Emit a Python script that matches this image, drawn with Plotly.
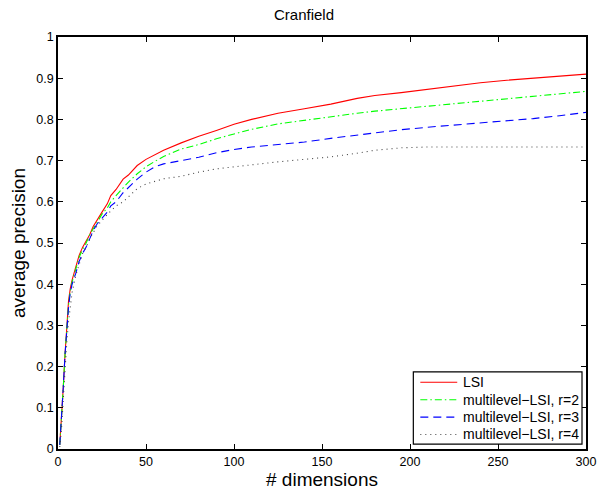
import plotly.graph_objects as go

# number of retained dimensions
dims = [1, 2, 3, 4, 5, 6, 7, 8, 10, 12, 14, 16, 18, 20, 22, 25, 28, 30, 33, 37, 40,
        45, 50, 55, 60, 70, 80, 90, 100, 110, 125, 140, 155, 170, 180, 195, 210,
        225, 240, 255, 270, 285, 300]

# average precision per method
lsi = [0.01, 0.07, 0.15, 0.23, 0.30, 0.36, 0.39, 0.41, 0.44, 0.47, 0.49, 0.505, 0.52,
       0.54, 0.555, 0.575, 0.595, 0.615, 0.63, 0.655, 0.665, 0.688, 0.703, 0.714,
       0.725, 0.743, 0.759, 0.773, 0.788, 0.80, 0.815, 0.826, 0.837, 0.851, 0.858,
       0.865, 0.873, 0.881, 0.889, 0.895, 0.900, 0.905, 0.910]
ml_r2 = [0.01, 0.07, 0.15, 0.23, 0.30, 0.35, 0.385, 0.405, 0.435, 0.465, 0.485, 0.50,
         0.52, 0.535, 0.55, 0.57, 0.585, 0.60, 0.615, 0.635, 0.648, 0.668, 0.685,
         0.698, 0.71, 0.728, 0.739, 0.753, 0.765, 0.776, 0.789, 0.798, 0.807, 0.815,
         0.820, 0.826, 0.832, 0.838, 0.845, 0.850, 0.856, 0.862, 0.868]
ml_r3 = [0.01, 0.07, 0.15, 0.23, 0.29, 0.345, 0.38, 0.40, 0.425, 0.455, 0.475, 0.49,
         0.51, 0.53, 0.545, 0.56, 0.575, 0.59, 0.60, 0.622, 0.635, 0.655, 0.672,
         0.685, 0.692, 0.700, 0.708, 0.719, 0.727, 0.733, 0.739, 0.745, 0.754, 0.762,
         0.768, 0.775, 0.781, 0.786, 0.792, 0.797, 0.802, 0.809, 0.817]
ml_r4 = [0.005, 0.05, 0.12, 0.20, 0.26, 0.31, 0.35, 0.38, 0.42, 0.45, 0.475, 0.49,
         0.51, 0.525, 0.54, 0.555, 0.57, 0.578, 0.59, 0.60, 0.612, 0.632, 0.643,
         0.650, 0.656, 0.662, 0.672, 0.680, 0.685, 0.690, 0.697, 0.703, 0.709, 0.718,
         0.725, 0.731, 0.733, 0.733, 0.733, 0.733, 0.733, 0.733, 0.733]

series = [
    ("LSI", lsi, "#ff0000", "solid"),
    ("multilevel\u2212LSI, r=2", ml_r2, "#00ff00", "7px,3px,1.5px,3px"),
    ("multilevel\u2212LSI, r=3", ml_r3, "#0000ff", "8px,5px"),
    ("multilevel\u2212LSI, r=4", ml_r4, "#444444", "1px,4px"),
]

FONT = "Liberation Sans, Arial, Helvetica, sans-serif"

# figure geometry (pixels)
W, H = 608, 498
ML, MR, MT, MB = 58, 21, 37, 44
PW, PH = W - ML - MR, H - MT - MB


def px_x(px):
    return (px - ML) / PW


def px_y(py):
    return (H - MB - py) / PH


fig = go.Figure()
for name, vals, color, dash in series:
    fig.add_trace(go.Scatter(
        x=dims, y=vals, mode="lines", name=name, showlegend=False,
        line=dict(color=color, width=1.1, dash=dash),
    ))

axis_common = dict(
    showgrid=False, zeroline=False,
    showline=True, linecolor="black", linewidth=1.6, mirror="ticks",
    ticks="inside", ticklen=5, tickcolor="black", tickwidth=1,
    tickfont=dict(family=FONT, size=12.5, color="black"),
)

# legend box drawn in the lower-right corner of the axes
box_l, box_r, box_t, box_b = 414, 583, 376, 449
row_y0, row_dy = 386.5, 17.6
shapes = [dict(type="rect", xref="paper", yref="paper",
               x0=px_x(box_l), x1=px_x(box_r), y0=px_y(box_b), y1=px_y(box_t),
               line=dict(color="black", width=1.2), fillcolor="white", layer="above")]
annotations = []
for i, (name, _, color, dash) in enumerate(series):
    yy = px_y(row_y0 + i * row_dy)
    shapes.append(dict(type="line", xref="paper", yref="paper",
                       x0=px_x(421), x1=px_x(458), y0=yy, y1=yy,
                       line=dict(color=color, width=1.1, dash=dash), layer="above"))
    annotations.append(dict(xref="paper", yref="paper", x=px_x(462), y=yy,
                            xanchor="left", yanchor="middle", showarrow=False,
                            text=name, font=dict(family=FONT, size=14, color="black")))

fig.update_layout(
    width=W, height=H,
    margin=dict(l=ML, r=MR, t=MT, b=MB),
    paper_bgcolor="white", plot_bgcolor="white",
    font=dict(family=FONT, color="black"),
    title=dict(text="Cranfield", x=0.5, xanchor="center", y=0.97, yanchor="middle",
               font=dict(family=FONT, size=15, color="black")),
    xaxis=dict(range=[0, 300], tickvals=[0, 50, 100, 150, 200, 250, 300],
               title=dict(text="# dimensions", font=dict(family=FONT, size=19), standoff=4),
               **axis_common),
    yaxis=dict(range=[0, 1], tickvals=[i / 10 for i in range(11)],
               ticktext=["0", "0.1", "0.2", "0.3", "0.4", "0.5", "0.6", "0.7", "0.8", "0.9", "1"],
               title=dict(text="average precision", font=dict(family=FONT, size=19), standoff=6),
               **axis_common),
    shapes=shapes,
    annotations=annotations,
    showlegend=False,
)

fig.write_html("out.html")
